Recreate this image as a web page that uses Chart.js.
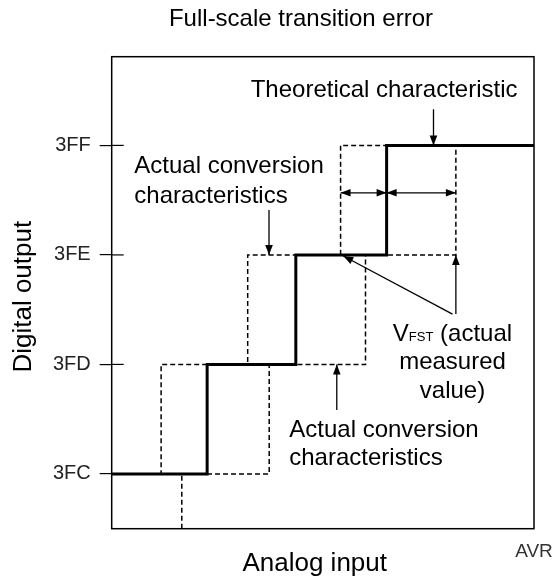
<!DOCTYPE html>
<html>
<head>
<meta charset="utf-8">
<script src="https://cdn.jsdelivr.net/npm/chart.js@4/dist/chart.umd.min.js"></script>
<style>
  html, body { margin: 0; padding: 0; background: #fff; }
  canvas { display: block; }
</style>
</head>
<body>
<canvas id="chart" width="557" height="581"></canvas>
<script>
// digital output codes, 3FC..3FF mapped to 0..3
const codeLabels = ['3FC', '3FD', '3FE', '3FF'];
const codeValues = [0, 1, 2, 3];

// analog input runs 0..100 across the frame (AVR at the right edge)
const theoreticalX = [0, 22.6, 22.6, 43.6, 43.6, 65.1, 65.1, 100];
const theoreticalY = [0, 0, 1, 1, 2, 2, 3, 3];

const actualEarlyX = [0, 11.7, 11.7, 32.2, 32.2, 54.2, 54.2, 100];
const actualEarlyY = [0, 0, 1, 1, 2, 2, 3, 3];

const actualLateX = [16.6, 16.6, 37.3, 37.3, 60.1, 60.1, 81.5, 81.5, 100];
const actualLateY = [-0.5, 0, 0, 1, 1, 2, 2, 3, 3];

const xEndLabel = 'AVR';

const FONT = '"Liberation Sans", Arial, Helvetica, sans-serif';

function toPoints(xs, ys) {
    return xs.map((x, i) => ({ x: x, y: ys[i] }));
}

// annotation arrows: [x1, y1, x2, y2, both ends?]
const arrows = [
    [76.2, 3.33, 76.2, 3.0, false],
    [37.25, 2.41, 37.25, 2.0, false],
    [65.1, 2.567, 54.2, 2.567, true],
    [65.1, 2.567, 81.5, 2.567, true],
    [80.7, 1.46, 54.85, 1.99, false],
    [81.5, 1.46, 81.5, 2.0, false],
    [53.3, 0.584, 53.3, 1.0, false],
];

const notes = [
    { text: 'Theoretical characteristic', x: 64.5, y: 3.443, align: 'center' },
    { text: 'Actual conversion', x: 5.35, y: 2.75, align: 'left' },
    { text: 'characteristics', x: 5.35, y: 2.476, align: 'left' },
    { text: 'measured', x: 80.7, y: 0.956, align: 'center' },
    { text: 'value)', x: 80.7, y: 0.691, align: 'center' },
    { text: 'Actual conversion', x: 42.05, y: 0.338, align: 'left' },
    { text: 'characteristics', x: 42.05, y: 0.082, align: 'left' },
];

function arrowHead(ctx, x1, y1, x2, y2) {
    const ang = Math.atan2(y2 - y1, x2 - x1);
    const len = 10, w = 3.8;
    const bx = x2 - len * Math.cos(ang), by = y2 - len * Math.sin(ang);
    ctx.beginPath();
    ctx.moveTo(x2, y2);
    ctx.lineTo(bx + w * Math.sin(ang), by - w * Math.cos(ang));
    ctx.lineTo(bx - w * Math.sin(ang), by + w * Math.cos(ang));
    ctx.closePath();
    ctx.fill();
}

const notesPlugin = {
    id: 'notes',
    afterDatasetsDraw(chart) {
        const { ctx, chartArea: a } = chart;
        const xs = chart.scales.x, ys = chart.scales.y;
        ctx.save();
        ctx.strokeStyle = '#000';
        ctx.fillStyle = '#000';

        // frame
        ctx.lineWidth = 1.5;
        ctx.strokeRect(a.left, a.top, a.right - a.left, a.bottom - a.top);

        // inner half of the y tick marks
        ctx.lineWidth = 1.2;
        codeValues.forEach(v => {
            const py = ys.getPixelForValue(v);
            ctx.beginPath();
            ctx.moveTo(a.left, py);
            ctx.lineTo(a.left + 12, py);
            ctx.stroke();
        });

        // arrows
        ctx.lineWidth = 1.3;
        arrows.forEach(([x1, y1, x2, y2, both]) => {
            const p1x = xs.getPixelForValue(x1), p1y = ys.getPixelForValue(y1);
            const p2x = xs.getPixelForValue(x2), p2y = ys.getPixelForValue(y2);
            ctx.beginPath();
            ctx.moveTo(p1x, p1y);
            ctx.lineTo(p2x, p2y);
            ctx.stroke();
            arrowHead(ctx, p1x, p1y, p2x, p2y);
            if (both) arrowHead(ctx, p2x, p2y, p1x, p1y);
        });

        // text notes
        ctx.font = '24px ' + FONT;
        ctx.textBaseline = 'alphabetic';
        notes.forEach(n => {
            ctx.textAlign = n.align;
            ctx.fillText(n.text, xs.getPixelForValue(n.x), ys.getPixelForValue(n.y));
        });

        // V_FST (actual
        const big = '24px ' + FONT, small = '13px ' + FONT;
        ctx.textAlign = 'left';
        ctx.font = big;
        const wV = ctx.measureText('V').width;
        const wRest = ctx.measureText(' (actual').width;
        ctx.font = small;
        const wSub = ctx.measureText('FST').width;
        let px = xs.getPixelForValue(80.7) - (wV + wSub + wRest) / 2;
        const py = ys.getPixelForValue(1.214);
        ctx.font = big;
        ctx.fillText('V', px, py);
        px += wV;
        ctx.font = small;
        ctx.fillText('FST', px, py);
        px += wSub;
        ctx.font = big;
        ctx.fillText(' (actual', px, py);

        // titles
        ctx.textAlign = 'center';
        ctx.font = '24px ' + FONT;
        ctx.fillText('Full-scale transition error', 301, 26);
        ctx.font = '26px ' + FONT;
        ctx.fillText('Analog input', a.left + 203, 570.7);
        ctx.save();
        ctx.translate(31, (a.top + a.bottom) / 2 + 4);
        ctx.rotate(-Math.PI / 2);
        ctx.fillText('Digital output', 0, 0);
        ctx.restore();

        ctx.restore();
    }
};

new Chart(document.getElementById('chart'), {
    type: 'scatter',
    data: {
        datasets: [
            {
                label: 'Actual (early)',
                data: toPoints(actualEarlyX, actualEarlyY),
                showLine: true,
                borderColor: '#000',
                borderWidth: 1.5,
                borderDash: [5, 3],
                pointRadius: 0,
                order: 2,
            },
            {
                label: 'Actual (late)',
                data: toPoints(actualLateX, actualLateY),
                showLine: true,
                borderColor: '#000',
                borderWidth: 1.5,
                borderDash: [5, 3],
                pointRadius: 0,
                order: 2,
            },
            {
                label: 'Theoretical',
                data: toPoints(theoreticalX, theoreticalY),
                showLine: true,
                borderColor: '#000',
                borderWidth: 3,
                pointRadius: 0,
                order: 1,
            },
        ]
    },
    options: {
        responsive: false,
        animation: false,
        layout: { padding: { top: 56.7, right: 23, bottom: 0, left: 0 } },
        plugins: {
            legend: { display: false },
            tooltip: { enabled: false },
            title: { display: false },
        },
        scales: {
            x: {
                type: 'linear',
                min: 0,
                max: 100,
                afterBuildTicks: s => { s.ticks = [{ value: 100 }]; },
                afterFit: s => { s.height = 52.3; s.paddingRight = 0; s.paddingLeft = 0; },
                ticks: {
                    callback: () => xEndLabel,
                    font: { family: FONT, size: 19 },
                    color: '#333',
                    padding: 11.6,
                    maxRotation: 0,
                    autoSkip: false,
                },
                grid: { display: false, drawTicks: false },
                border: { display: false },
            },
            y: {
                type: 'linear',
                min: -0.5,
                max: 3.81,
                afterBuildTicks: s => { s.ticks = codeValues.map(v => ({ value: v })); },
                afterFit: s => { s.width = 111.7; s.paddingTop = 0; s.paddingBottom = 0; },
                ticks: {
                    callback: (v, i) => codeLabels[i],
                    font: { family: FONT, size: 20 },
                    color: '#222',
                    padding: 9,
                },
                grid: { drawOnChartArea: false, tickLength: 12, color: '#000', lineWidth: 1.2 },
                border: { display: false },
            }
        }
    },
    plugins: [notesPlugin]
});
</script>
</body>
</html>
